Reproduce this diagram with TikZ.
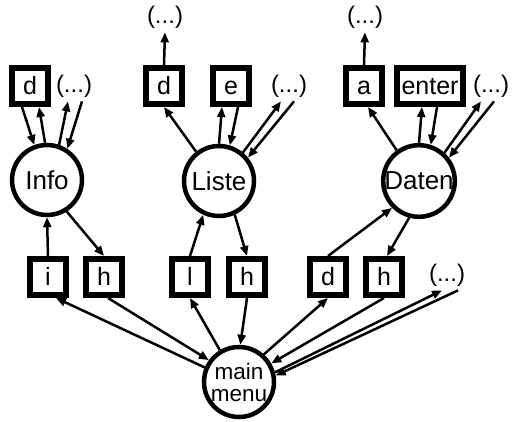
\documentclass[tikz,border=0pt]{standalone}
\usepackage{fontspec}
\setmainfont{Liberation Sans}
\usetikzlibrary{arrows.meta}

\begin{document}
\begin{tikzpicture}[x=1pt,y=1pt,
		state/.style={circle,draw,line width=4.5pt,minimum size=70pt,inner sep=0pt,font=\fontsize{26}{28}\selectfont},
		key/.style={rectangle,draw,line width=6pt,minimum size=36pt,inner sep=5pt,text height=18pt,text depth=0pt,font=\fontsize{25}{27}\selectfont},
		more/.style={inner sep=4pt,font=\fontsize{24}{26}\selectfont}]
		\useasboundingbox (0,0) rectangle (512,421);
		% menus
		\node[state] (Info) at (47,241) {Info};
		\node[state] (Liste) at (219,240) {Liste};
		\node[state] (Daten) at (419,240) {Daten};
		\node[state,align=center,font=\fontsize{22.5}{22}\selectfont] (main) at (239,39) {main\\menu};
		%
		\node[key] (dI) at (30,335) {d};
		\node[more] (dotsI) at (74,335) {(...)};
		\node[key] (dL) at (164,335) {d};
		\node[key] (eL) at (231,335) {e};
		\node[more] (dotsL) at (289,335) {(...)};
		\node[more] (topL) at (165,404) {(...)};
		\node[key] (aD) at (364,335) {a};
		\node[key] (enterD) at (430,335) {enter};
		\node[more] (dotsD) at (491,335) {(...)};
		\node[more] (topD) at (365,404) {(...)};
		%
		\node[key] (iI) at (48,144) {i};
		\node[key] (hI) at (104,144) {h};
		\node[key] (lL) at (190,144) {l};
		\node[key] (hL) at (247,144) {h};
		\node[key] (dD) at (328,144) {d};
		\node[key] (hD) at (384,144) {h};
		\node[more] (dotsM) at (447,146) {(...)};
		%
		\path[-{Triangle[length=10pt,width=8pt]},line width=2.5pt]
		% upper arrows
		([xshift=-8pt]dI.south) edge (Info.110)
		(Info.93) edge ([xshift=9pt]dI.south)
		(Info.71) edge ([xshift=-6pt]dotsI.south)
		([xshift=8pt]dotsI.south) edge (Info.57)
		(Liste.128) edge (dL.south)
		(dL.north) edge (topL.south)
		(Liste.90) edge ([xshift=-9pt]eL.south)
		([xshift=7pt]eL.south) edge (Liste.73)
		(Liste.50) edge ([xshift=-8pt]dotsL.south)
		([xshift=5pt]dotsL.south) edge (Liste.39)
		(Daten.126) edge ([xshift=4pt]aD.south)
		(aD.north) edge (topD.south)
		(Daten.90) edge ([xshift=-8pt]enterD.south)
		([xshift=7pt]enterD.south) edge (Daten.72)
		(Daten.48) edge ([xshift=-10pt]dotsD.south)
		([xshift=3pt]dotsD.south) edge (Daten.38)
		% middle arrows
		(iI.north) edge (Info.270)
		(Info.-58) edge (hI.north)
		(lL.north) edge (Liste.245)
		(Liste.295) edge (hL.north)
		(dD.north) edge (Daten.225)
		(Daten.255) edge ([xshift=3pt]hD.north)
		% lower arrows
		(main.157) edge ([xshift=8pt]iI.south)
		([xshift=4pt]hI.south) edge (main.144)
		(main.121) edge (lL.south)
		(hL.south) edge (main.88)
		(main.48) edge (dD.south)
		(hD.south) edge (main.30)
		(main.15) edge ([xshift=-5pt]dotsM.south)
		([xshift=11pt]dotsM.south) edge (main.10);
	\end{tikzpicture}
\end{document}
